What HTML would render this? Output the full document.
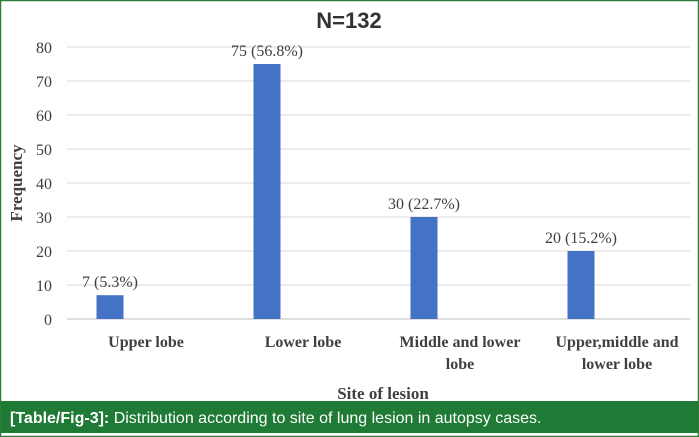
<!DOCTYPE html>
<html><head><meta charset="utf-8"><style>
body{margin:0;width:699px;height:437px;overflow:hidden;background:#fff}
svg{display:block}
</style></head><body>
<svg width="699" height="437" xmlns="http://www.w3.org/2000/svg">
<rect x="0.5" y="0.5" width="698" height="436" fill="#fff" stroke="#2e7d3a" stroke-width="1.5"/>
<text x="349" y="28" font-family="Liberation Sans, sans-serif" font-size="22" font-weight="bold" fill="#333" text-anchor="middle">N=132</text>
<g id="grid"></g><g id="bars"></g>
<text transform="translate(22,183) rotate(-90)" font-family="Liberation Serif, serif" font-size="17" font-weight="bold" fill="#404040" text-anchor="middle">Frequency</text>
<text x="383" y="399" font-family="Liberation Serif, serif" font-size="17" font-weight="bold" fill="#404040" text-anchor="middle">Site of lesion</text>
<rect x="1" y="401" width="697" height="32" fill="#1f7a35"/>
<text x="10" y="423" font-family="Liberation Sans, sans-serif" font-size="16" fill="#fff"><tspan font-weight="bold">[Table/Fig-3]:</tspan> Distribution according to site of lung lesion in autopsy cases.</text>
</svg>
<script>
const categories=[["Upper lobe"],["Lower lobe"],["Middle and lower","lobe"],["Upper,middle and","lower lobe"]];
const values=[7,75,30,20];
const valueLabels=["7 (5.3%)","75 (56.8%)","30 (22.7%)","20 (15.2%)"];
const yTicks=[0,10,20,30,40,50,60,70,80];
const NS="http://www.w3.org/2000/svg";
const y=v=>319-v*3.4;
const catX=i=>146+i*157;
const svg=document.querySelector('svg');
const grid=document.getElementById('grid'),bars=document.getElementById('bars');
function mk(t,a,p){const e=document.createElementNS(NS,t);for(const k in a)e.setAttribute(k,a[k]);p.appendChild(e);return e;}
yTicks.forEach(t=>{
 const l=mk('line',{x1:67,x2:690,y1:y(t),y2:y(t),stroke:t===0?'#bfbfbf':'#d9d9d9','stroke-width':1},grid);
 
 
 const tx=mk('text',{x:52,y:y(t)+6,'text-anchor':'end','font-family':'Liberation Serif, serif','font-size':16,fill:'#404040'},grid);
 tx.textContent=t;
 
 
});
values.forEach((v,i)=>{
 const cx=catX(i)-36;
 const r=mk('rect',{x:cx-13.5,y:y(v),width:27,height:y(0)-y(v),fill:'#4472c4'},bars);
 
 
 const lb=mk('text',{x:cx,y:y(v)-8,'text-anchor':'middle','font-family':'Liberation Serif, serif','font-size':16,fill:'#404040'},bars);
 lb.textContent=valueLabels[i];
 
 
 categories[i].forEach((s,j)=>{
  const c=mk('text',{x:catX(i),y:347+j*22,'text-anchor':'middle','font-family':'Liberation Serif, serif','font-size':16,'font-weight':'bold',fill:'#404040'},bars);
  c.textContent=s;
  
  
 });
});
</script>
</body></html>
